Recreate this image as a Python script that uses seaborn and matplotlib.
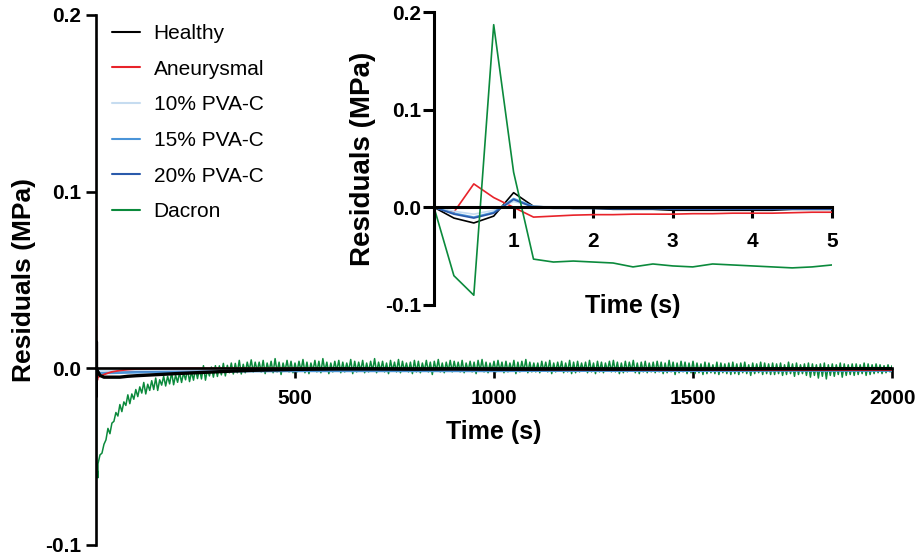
import numpy as np
import pandas as pd
import matplotlib
matplotlib.use("Agg")
import matplotlib.pyplot as plt
import seaborn as sns
from matplotlib.lines import Line2D

# ---------------- data ----------------
series_names = ["Healthy", "Aneurysmal", "10% PVA-C", "15% PVA-C", "20% PVA-C", "Dacron"]
series_colors = ["#000000", "#e8232a", "#c6dcf0", "#4a94d8", "#2a5aab", "#0b8a3c"]

# first 5 s (inset), sampled every 0.25 s
t_inset = [0, 0.25, 0.5, 0.75, 1.0, 1.25, 1.5, 1.75, 2.0, 2.25, 2.5, 2.75, 3.0,
           3.25, 3.5, 3.75, 4.0, 4.25, 4.5, 4.75, 5.0]
healthy_inset = [0, -0.011, -0.016, -0.009, 0.015, 0.001, 0.000, -0.001, -0.001, -0.002, -0.002,
                 -0.002, -0.003, -0.003, -0.003, -0.003, -0.003, -0.003, -0.002, -0.002, -0.002]
aneur_inset = [0, -0.005, 0.024, 0.010, 0.000, -0.010, -0.009, -0.008, -0.0075, -0.0075, -0.007,
               -0.007, -0.007, -0.0065, -0.0065, -0.006, -0.006, -0.006, -0.0055, -0.005, -0.005]
pva10_inset = [0, -0.004, -0.007, -0.003, 0.006, 0.001, 0.0005, 0.0005, 0.0, 0.0, 0.0,
               0.0, 0.0, 0.0, 0.0, 0.0, 0.0, 0.0, 0.0, 0.0, 0.0]
pva15_inset = [0, -0.006, -0.010, -0.005, 0.009, 0.001, 0.0, -0.001, -0.001, -0.001, -0.001,
               -0.001, -0.001, -0.001, -0.001, -0.001, -0.001, -0.001, -0.001, -0.001, -0.001]
pva20_inset = [0, -0.007, -0.011, -0.006, 0.008, 0.0, -0.001, -0.001, -0.001, -0.0015, -0.0015,
               -0.0015, -0.002, -0.002, -0.002, -0.002, -0.002, -0.002, -0.002, -0.002, -0.002]
dacron_inset = [0, -0.070, -0.090, 0.187, 0.036, -0.053, -0.056, -0.055, -0.056, -0.057, -0.061,
                -0.058, -0.060, -0.061, -0.058, -0.059, -0.060, -0.061, -0.062, -0.061, -0.059]

# long-term residuals (s)
t_long = [10, 20, 30, 40, 60, 80, 100, 150, 200, 250, 300, 350, 400, 500, 600, 700, 800,
          900, 1000, 1100, 1200, 1300, 1400, 1500, 1600, 1700, 1800, 1900, 2000]
healthy_long = [-0.004, -0.005, -0.005, -0.005, -0.005, -0.0045, -0.0042, -0.0036, -0.003,
                -0.0025, -0.002, -0.0015, -0.0011, -0.0006, -0.0004, -0.0004, -0.0005, -0.0004,
                -0.0005, -0.0005, -0.0004, -0.0005, -0.0004, -0.0005, -0.0004, -0.0003, -0.0003,
                -0.0002, -0.0002]
aneur_long = [-0.0045, -0.0035, -0.0027, -0.002, -0.0012, -0.0007, -0.0004, -0.0002, -0.0001,
              0.0, 0.0, 0.0, 0.0, 0.0, -0.0002, -0.0003, -0.0004, -0.0005, -0.0006, -0.0007,
              -0.0008, -0.0008, -0.0009, -0.0009, -0.001, -0.001, -0.001, -0.001, -0.001]
pva10_long = [-0.0015, -0.0015, -0.0014, -0.0013, -0.0012, -0.0011, -0.001, -0.0009, -0.0008,
              -0.0007, -0.0006, -0.0006, -0.0005, -0.0005, -0.0005, -0.0005, -0.0005, -0.0005,
              -0.0005, -0.0005, -0.0005, -0.0005, -0.0005, -0.0005, -0.0005, -0.0005, -0.0005,
              -0.0005, -0.0005]
pva15_long = [-0.0025, -0.0027, -0.0027, -0.0027, -0.0026, -0.0025, -0.0024, -0.0022, -0.002,
              -0.0019, -0.0018, -0.0017, -0.0017, -0.0016, -0.0016, -0.0016, -0.0016, -0.0016,
              -0.0016, -0.0015, -0.0015, -0.0015, -0.0015, -0.0015, -0.0015, -0.0014, -0.0014,
              -0.0014, -0.0014]
pva20_long = [-0.002, -0.0022, -0.0022, -0.0021, -0.002, -0.0019, -0.0018, -0.0016, -0.0015,
              -0.0014, -0.0013, -0.0012, -0.0011, -0.001, -0.001, -0.001, -0.001, -0.001,
              -0.001, -0.001, -0.001, -0.001, -0.001, -0.001, -0.001, -0.001, -0.001,
              -0.001, -0.001]

# Dacron noisy trace: upper edge of the noise band read at 10, 20, ... 2000 s,
# lower edge read at 5, 15, ... 1995 s
t_dacron_upper = list(range(10, 2001, 10))
t_dacron_lower = list(range(5, 2000, 10))
dacron_upper = [
    -0.049, -0.043, -0.034, -0.031, -0.025, -0.0205, -0.019, -0.015, -0.0145, -0.012,
    -0.0105, -0.008, -0.009, -0.007, -0.0055, -0.0065, -0.0045, -0.0045, -0.0023, -0.0038,
    -0.0024, -0.0025, -0.0005, -0.002, -0.0002, -0.0003, 0.0015, -0.0007, 0.0007, 0.0015,
    0.0014, 0.0028, 0.0017, 0.003, 0.0028, 0.0045, 0.0023, 0.0035, 0.0048, 0.0035,
    0.0035, 0.0045, 0.003, 0.004, 0.0055, 0.0035, 0.003, 0.0045, 0.004, 0.003,
    0.004, 0.005, 0.0035, 0.003, 0.0045, 0.004, 0.0055, 0.0035, 0.003, 0.004,
    0.0045, 0.0035, 0.003, 0.005, 0.004, 0.0035, 0.0045, 0.003, 0.004, 0.0055,
    0.0035, 0.004, 0.003, 0.0045, 0.0035, 0.005, 0.004, 0.003, 0.0035, 0.0045,
    0.004, 0.003, 0.0045, 0.0035, 0.004, 0.005, 0.003, 0.0035, 0.0045, 0.004,
    0.0035, 0.0045, 0.003, 0.004, 0.0035, 0.0045, 0.005, 0.0035, 0.003, 0.004,
    0.0045, 0.0035, 0.004, 0.003, 0.0045, 0.0035, 0.004, 0.005, 0.0035, 0.003,
    0.003, 0.004, 0.0035, 0.0045, 0.003, 0.0035, 0.004, 0.003, 0.0045, 0.0035,
    0.004, 0.003, 0.0035, 0.0045, 0.003, 0.004, 0.0035, 0.003, 0.004, 0.0045,
    0.0035, 0.003, 0.004, 0.0035, 0.0045, 0.003, 0.0035, 0.004, 0.003, 0.0035,
    0.004, 0.0035, 0.003, 0.0045, 0.0035, 0.003, 0.004, 0.0035, 0.003, 0.004,
    0.003, 0.0025, 0.0035, 0.003, 0.002, 0.0035, 0.003, 0.0025, 0.003, 0.0035,
    0.0025, 0.003, 0.0035, 0.002, 0.003, 0.0025, 0.0035, 0.003, 0.0025, 0.003,
    0.0025, 0.003, 0.002, 0.0035, 0.0025, 0.003, 0.002, 0.0025, 0.003, 0.0025,
    0.002, 0.0025, 0.003, 0.002, 0.0025, 0.002, 0.003, 0.0025, 0.002, 0.0025,
    0.0025, 0.002, 0.003, 0.0025, 0.002, 0.0025, 0.002, 0.0015, 0.002, 0.0015,
]
dacron_lower = [
    -0.054, -0.048, -0.0405, -0.037, -0.030, -0.027, -0.0245, -0.021, -0.020, -0.0175,
    -0.016, -0.014, -0.0145, -0.0125, -0.012, -0.0125, -0.0095, -0.010, -0.0088, -0.0093,
    -0.0079, -0.008, -0.0065, -0.0075, -0.0067, -0.0058, -0.006, -0.0067, -0.0043, -0.005,
    -0.0046, -0.0037, -0.0043, -0.0025, -0.0032, -0.0025, -0.0032, -0.0025, -0.0012, -0.002,
    -0.0015, -0.002, -0.003, -0.0015, -0.0025, -0.002, -0.0035, -0.0015, -0.002, -0.0025,
    -0.002, -0.0015, -0.0025, -0.003, -0.0015, -0.002, -0.0025, -0.0015, -0.003, -0.002,
    -0.0015, -0.0025, -0.002, -0.0015, -0.003, -0.002, -0.0015, -0.0025, -0.002, -0.0015,
    -0.0025, -0.0015, -0.002, -0.003, -0.0015, -0.002, -0.0025, -0.0015, -0.002, -0.003,
    -0.002, -0.0025, -0.0015, -0.002, -0.0035, -0.0015, -0.002, -0.0025, -0.0015, -0.002,
    -0.0015, -0.002, -0.0025, -0.0015, -0.002, -0.003, -0.0015, -0.002, -0.0025, -0.0015,
    -0.002, -0.0015, -0.0025, -0.002, -0.0015, -0.003, -0.002, -0.0015, -0.0025, -0.002,
    -0.002, -0.0025, -0.0015, -0.002, -0.003, -0.002, -0.0015, -0.0025, -0.002, -0.003,
    -0.0025, -0.002, -0.0015, -0.0025, -0.002, -0.003, -0.002, -0.0025, -0.0015, -0.002,
    -0.002, -0.003, -0.0025, -0.002, -0.0015, -0.0025, -0.003, -0.002, -0.0025, -0.002,
    -0.0025, -0.002, -0.003, -0.0025, -0.002, -0.0035, -0.0025, -0.002, -0.003, -0.0025,
    -0.003, -0.0025, -0.0035, -0.003, -0.0025, -0.003, -0.0035, -0.0025, -0.003, -0.0035,
    -0.003, -0.0035, -0.0025, -0.003, -0.004, -0.003, -0.0025, -0.0035, -0.003, -0.0035,
    -0.0035, -0.003, -0.004, -0.0035, -0.003, -0.0045, -0.0035, -0.003, -0.004, -0.005,
    -0.004, -0.0055, -0.0045, -0.006, -0.004, -0.0045, -0.0035, -0.005, -0.004, -0.0035,
    -0.004, -0.0035, -0.003, -0.004, -0.0035, -0.003, -0.0025, -0.003, -0.0025, -0.002,
]

main_xticks = [500, 1000, 1500, 2000]
main_xticklabels = ["500", "1000", "1500", "2000"]
yticks = [-0.1, 0.0, 0.1, 0.2]
yticklabels = ["-0.1", "0.0", "0.1", "0.2"]
inset_xticks = [1, 2, 3, 4, 5]
inset_xticklabels = ["1", "2", "3", "4", "5"]

# ---------------- assemble ----------------
dac_t, dac_v = [], []
for tl, vl, tu, vu in zip(t_dacron_lower, dacron_lower, t_dacron_upper, dacron_upper):
    dac_t += [tl, tu]
    dac_v += [vl, vu]

inset_vals = [healthy_inset, aneur_inset, pva10_inset, pva15_inset, pva20_inset, dacron_inset]
long_vals = [healthy_long, aneur_long, pva10_long, pva15_long, pva20_long, dac_v]
long_times = [t_long, t_long, t_long, t_long, t_long, dac_t]

# ---------------- style ----------------
sns.set_style("ticks")
plt.rcParams["font.family"] = ["Liberation Sans", "DejaVu Sans"]
plt.rcParams["axes.unicode_minus"] = False
for k in ["text.color", "axes.labelcolor", "xtick.color", "ytick.color", "axes.edgecolor"]:
    plt.rcParams[k] = "black"

fig = plt.figure(figsize=(9.19, 5.6), dpi=100)
ax = fig.add_axes([96 / 919, 1 - 545 / 560, 796 / 919, 530 / 560])
axin = fig.add_axes([434 / 919, 1 - 305 / 560, 398 / 919, 293 / 560])

main_lw = {"Healthy": 2.4, "Aneurysmal": 1.3, "10% PVA-C": 1.5, "15% PVA-C": 1.5,
           "20% PVA-C": 1.5, "Dacron": 1.1}

# main: reverse order so Healthy sits on top
for i in reversed(range(len(series_names))):
    t = t_inset + long_times[i]
    v = inset_vals[i] + long_vals[i]
    df = pd.DataFrame({"t": t, "v": v})
    sns.lineplot(data=df, x="t", y="v", ax=ax, color=series_colors[i],
                 lw=main_lw[series_names[i]], sort=False, estimator=None, legend=False)

for i in range(len(series_names)):
    df = pd.DataFrame({"t": t_inset, "v": inset_vals[i]})
    sns.lineplot(data=df, x="t", y="v", ax=axin, color=series_colors[i],
                 lw=1.2, sort=False, estimator=None, legend=False)


def style_axis(a, lw, ticklen):
    a.spines["top"].set_visible(False)
    a.spines["right"].set_visible(False)
    a.spines["bottom"].set_position(("data", 0))
    a.spines["left"].set_linewidth(lw)
    a.spines["bottom"].set_linewidth(lw)
    a.spines["left"].set_zorder(5)
    a.spines["bottom"].set_zorder(5)
    a.tick_params(axis="both", direction="out", length=ticklen, width=lw, color="black")


ax.set_xlim(0, 2000)
ax.set_ylim(-0.1, 0.2)
style_axis(ax, 1.9, 7)
ax.set_xticks(main_xticks)
ax.set_xticklabels(main_xticklabels, fontsize=15, fontweight="bold")
ax.set_yticks(yticks)
ax.set_yticklabels(yticklabels, fontsize=15, fontweight="bold")
ax.tick_params(axis="x", pad=8)
ax.tick_params(axis="y", pad=3.5)
ax.set_xlabel("Time (s)", fontsize=18, fontweight="bold")
ax.set_ylabel("Residuals (MPa)", fontsize=19, fontweight="bold")
ax.xaxis.set_label_coords(0.5, 0.236)
ax.yaxis.set_label_coords(-0.076, 0.5)
ax.set_facecolor("none")

axin.set_xlim(0, 5)
axin.set_ylim(-0.1, 0.2)
style_axis(axin, 2.2, 8)
axin.set_xticks(inset_xticks)
axin.set_xticklabels(inset_xticklabels, fontsize=15, fontweight="bold")
axin.set_yticks(yticks)
axin.set_yticklabels(yticklabels, fontsize=15, fontweight="bold")
axin.tick_params(axis="x", pad=10)
axin.tick_params(axis="y", pad=1)
axin.set_xlabel("Time (s)", fontsize=18, fontweight="bold")
axin.set_ylabel("Residuals (MPa)", fontsize=20, fontweight="bold")
axin.xaxis.set_label_coords(0.5, 0.038)
axin.yaxis.set_label_coords(-0.145, 0.5)
axin.set_facecolor("none")

# legend
handles = [Line2D([0], [0], color=c, lw=1.5) for c in series_colors]
fig.legend(handles, series_names, loc="upper left", bbox_to_anchor=(112 / 919, 1 - 24 / 560),
           frameon=False, fontsize=15, handlelength=1.35, handletextpad=0.65,
           labelspacing=0.80, borderpad=0, borderaxespad=0)

fig.savefig("out.png", dpi=100)
